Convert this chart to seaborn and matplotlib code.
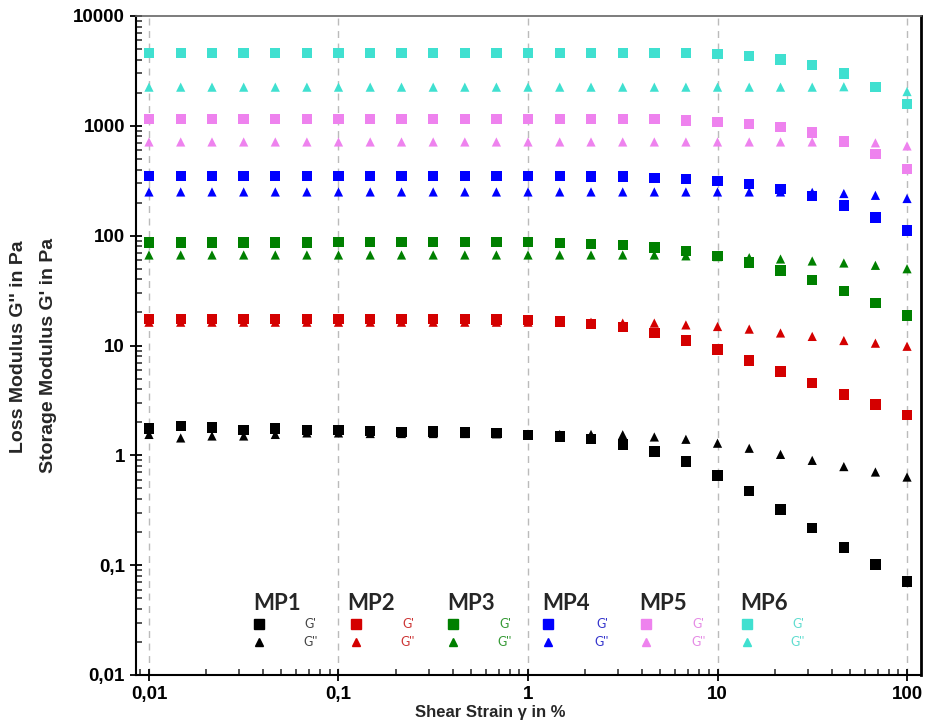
import matplotlib
matplotlib.use("Agg")
import matplotlib.pyplot as plt
import seaborn as sns
import pandas as pd
from matplotlib.ticker import LogLocator, NullFormatter

# shear strain in % (6 points per decade)
strain = [0.01, 0.0147, 0.0215, 0.0316, 0.0464, 0.0681,
          0.1, 0.147, 0.215, 0.316, 0.464, 0.681,
          1, 1.47, 2.15, 3.16, 4.64, 6.81,
          10, 14.7, 21.5, 31.6, 46.4, 68.1, 100]

# storage modulus G' (Pa)
mp1_storage = [1.76, 1.85, 1.79, 1.71, 1.76, 1.70, 1.71, 1.66, 1.64, 1.65, 1.61, 1.59, 1.54,
               1.49, 1.41, 1.26, 1.08, 0.877, 0.653, 0.473, 0.322, 0.218, 0.145, 0.101, 0.0711]
mp2_storage = [17.4, 17.4, 17.4, 17.4, 17.4, 17.4, 17.4, 17.4, 17.4, 17.4, 17.4, 17.2, 17.0,
               16.5, 15.7, 14.7, 13.0, 11.1, 9.18, 7.33, 5.78, 4.56, 3.59, 2.90, 2.33]
mp3_storage = [86.5, 86.5, 86.5, 86.5, 86.5, 86.5, 87.5, 87.5, 87.5, 87.5, 87.5, 87.5, 87.5,
               86.0, 84.0, 81.8, 78.0, 72.6, 65.0, 56.9, 48.1, 39.5, 31.4, 24.4, 18.7]
mp4_storage = [350, 350, 350, 350, 350, 350, 350, 350, 350, 350, 350, 350, 350,
               348, 347, 345, 336, 326, 313, 294, 265, 230, 188, 146, 111]
mp5_storage = [1160, 1160, 1160, 1160, 1160, 1160, 1160, 1160, 1160, 1160, 1160, 1160, 1160,
               1160, 1160, 1156, 1147, 1117, 1088, 1040, 971, 868, 722, 551, 403]
mp6_storage = [4600, 4600, 4600, 4600, 4600, 4600, 4600, 4600, 4600, 4600, 4600, 4600, 4600,
               4600, 4600, 4600, 4600, 4585, 4490, 4305, 4015, 3590, 2995, 2248, 1583]

# loss modulus G'' (Pa)
mp1_loss = [1.55, 1.44, 1.50, 1.50, 1.55, 1.60, 1.60, 1.58, 1.58, 1.58, 1.58, 1.57, 1.56,
            1.55, 1.55, 1.54, 1.47, 1.40, 1.29, 1.16, 1.02, 0.90, 0.79, 0.705, 0.634]
mp2_loss = [16.3, 16.3, 16.3, 16.3, 16.3, 16.3, 16.3, 16.3, 16.3, 16.3, 16.3, 16.3, 16.3,
            16.3, 16.3, 16.0, 16.0, 15.4, 14.9, 14.1, 13.0, 12.1, 11.1, 10.5, 9.84]
mp3_loss = [66.7, 66.7, 66.7, 66.7, 66.7, 66.7, 66.7, 66.7, 66.7, 66.7, 66.7, 66.7, 66.7,
            66.7, 66.7, 66.7, 66.7, 65.5, 64.5, 63.1, 61.3, 58.8, 56.4, 53.7, 50.0]
mp4_loss = [250, 250, 250, 250, 250, 250, 250, 250, 250, 250, 250, 250, 250,
            250, 250, 250, 250, 250, 250, 250, 250, 248, 242, 233, 218]
mp5_loss = [713, 713, 713, 713, 713, 713, 713, 713, 713, 713, 713, 713, 713,
            713, 713, 713, 713, 713, 713, 713, 713, 713, 713, 700, 656]
mp6_loss = [2250, 2250, 2250, 2250, 2250, 2250, 2250, 2250, 2250, 2250, 2250, 2250, 2250,
            2250, 2250, 2250, 2250, 2250, 2250, 2250, 2250, 2250, 2270, 2270, 2052]

samples = ["MP1", "MP2", "MP3", "MP4", "MP5", "MP6"]
storage = [mp1_storage, mp2_storage, mp3_storage, mp4_storage, mp5_storage, mp6_storage]
loss = [mp1_loss, mp2_loss, mp3_loss, mp4_loss, mp5_loss, mp6_loss]
colors = ["#000000", "#d40000", "#008000", "#0000ff", "#ee82ee", "#40e0d0"]
label_colors = ["#444444", "#cc3333", "#339933", "#3333cc", "#e58ae5", "#5fdccf"]

x_ticks = [0.01, 0.1, 1, 10, 100]
x_tick_labels = ["0,01", "0,1", "1", "10", "100"]
y_ticks = [0.01, 0.1, 1, 10, 100, 1000, 10000]
y_tick_labels = ["0,01", "0,1", "1", "10", "100", "1000", "10000"]

# long table: G'' rows first so squares end up on top
frames = []
for name, vals in zip(samples, loss):
    frames.append(pd.DataFrame({"strain": strain, "modulus": vals, "sample": name, "type": "G''"}))
for name, vals in zip(samples, storage):
    frames.append(pd.DataFrame({"strain": strain, "modulus": vals, "sample": name, "type": "G'"}))
df = pd.concat(frames, ignore_index=True)

sns.set_style("ticks")
plt.rcParams["font.family"] = ["Liberation Sans", "DejaVu Sans"]

W, H = 928, 724
def fx(px):
    return px / W
def fy(py):
    return 1 - py / H

fig = plt.figure(figsize=(W / 100, H / 100), dpi=100)
ax = fig.add_axes([fx(136), fy(675), (921 - 136) / W, (675 - 16) / H])

sns.scatterplot(data=df, x="strain", y="modulus", hue="sample", style="type", size="type",
                hue_order=samples, palette=colors,
                markers={"G'": "s", "G''": "^"}, sizes={"G'": 56, "G''": 44},
                linewidth=0, legend=False, ax=ax, zorder=3)

ax.set_xscale("log")
ax.set_yscale("log")
ax.set_xlim(0.00854, 118.5)
ax.set_ylim(0.01, 10000)

ax.set_xticks(x_ticks)
ax.set_xticklabels(x_tick_labels, fontsize=13.5, fontweight="bold")
ax.set_yticks(y_ticks)
ax.set_yticklabels(y_tick_labels, fontsize=13.5, fontweight="bold")
ax.xaxis.set_minor_locator(LogLocator(base=10, subs=range(2, 10), numticks=20))
ax.yaxis.set_minor_locator(LogLocator(base=10, subs=range(2, 10), numticks=20))
ax.xaxis.set_minor_formatter(NullFormatter())
ax.yaxis.set_minor_formatter(NullFormatter())
ax.tick_params(which="major", direction="inout", length=8, width=1.3, pad=4, colors="black")
ax.tick_params(which="minor", direction="in", length=4, width=1.1)

ax.grid(axis="x", which="major", linestyle=(0, (5, 4)), color="#bbbbbb", linewidth=1)
ax.set_axisbelow(True)

for side in ["left", "bottom"]:
    ax.spines[side].set_linewidth(1.5)
    ax.spines[side].set_color("black")
ax.spines["top"].set_color("#666666")
ax.spines["top"].set_linewidth(1.2)
ax.spines["right"].set_color("black")
ax.spines["right"].set_linewidth(2)

ax.set_xlabel("")
ax.set_ylabel("")
fig.text(fx(490), fy(712), "Shear Strain \u03b3 in %", ha="center", va="center",
         fontsize=12, fontweight="bold")
fig.text(fx(19), fy(347), "Loss Modulus G'' in Pa", rotation=90, ha="center", va="center",
         fontsize=14, fontweight="bold")
fig.text(fx(49), fy(355), "Storage Modulus G' in Pa", rotation=90, ha="center", va="center",
         fontsize=14, fontweight="bold")

# hand-made legend
name_x = [253, 347, 447, 542, 639, 740]
marker_x = [259, 356, 453, 548, 646, 747]
text_x = [310, 408, 505, 602, 698, 798]
for i, name in enumerate(samples):
    fig.text(fx(name_x[i]), fy(604), name, fontsize=16, fontweight="bold",
             family=["Lato", "DejaVu Sans"], ha="left", va="center")
    ax.plot([fx(marker_x[i])], [fy(624)], marker="s", markersize=7.5, color=colors[i],
            linestyle="none", transform=fig.transFigure, clip_on=False)
    ax.plot([fx(marker_x[i])], [fy(642)], marker="^", markersize=6, color=colors[i],
            linestyle="none", transform=fig.transFigure, clip_on=False)
    fig.text(fx(text_x[i]), fy(624), "G'", fontsize=9, color=label_colors[i],
             family=["Lato", "DejaVu Sans"], ha="center", va="center")
    fig.text(fx(text_x[i]), fy(642), "G''", fontsize=9, color=label_colors[i],
             family=["Lato", "DejaVu Sans"], ha="center", va="center")

fig.savefig("out.png", dpi=100)
